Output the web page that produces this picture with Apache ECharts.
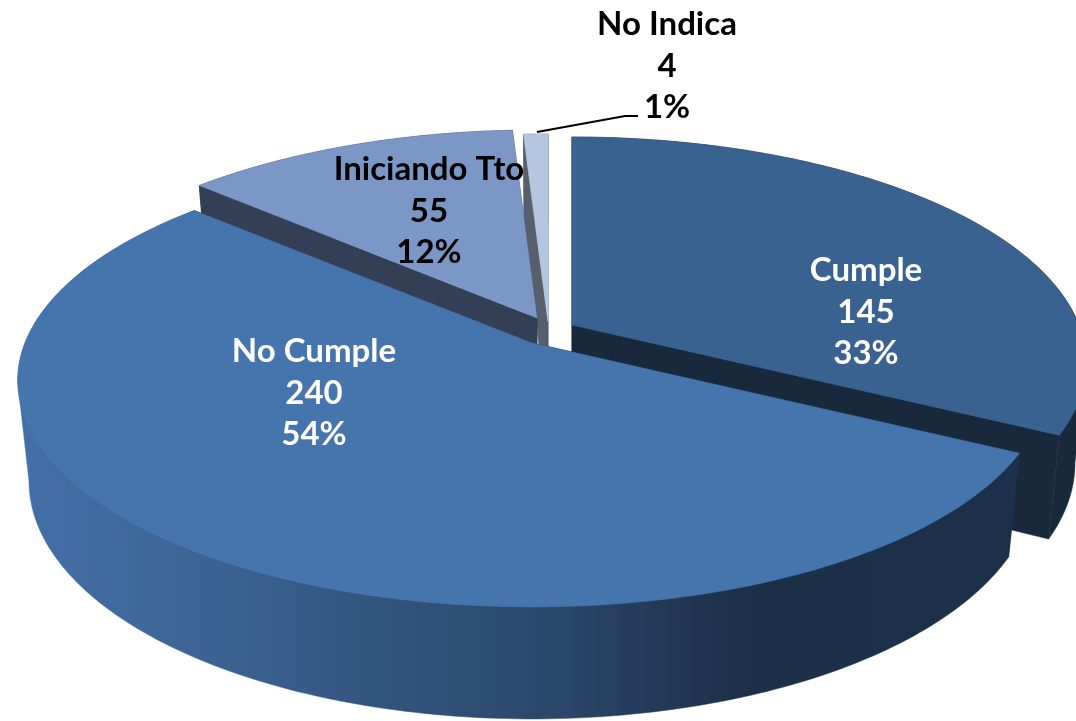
<!DOCTYPE html>
<html>
<head>
<meta charset="utf-8">
<style>html,body{margin:0;padding:0;background:#fff}#c{width:1076px;height:721px}</style>
<script src="https://cdn.jsdelivr.net/npm/echarts@6/dist/echarts.min.js"></script>
</head>
<body>
<div id="c"></div>
<script>
// ---- data ----
const categories = ['Cumple', 'No Cumple', 'Iniciando Tto', 'No Indica'];
const counts = [145, 240, 55, 4];
const percentLabels = ['33%', '54%', '12%', '1%'];

// ---- styling / layout (no data here) ----
const apexes = [[572, 325], [532, 343], [537, 318], [548, 322]];
const topColors = ['#3a6290', '#4674ad', '#7a97c5', '#b5c6e0'];
const wallColors = ['#18293c', null, '#323f55', '#565f6c'];
const paintRank = [2, 3, 1, 0];
const labelAt = [[866, 312], [314, 393], [429, 211], [667, 66]];
const labelColors = ['#ffffff', '#ffffff', '#000000', '#000000'];
const leader = [[537, 132], [625, 116], [638, 116]];
const RADIUS_X = 507, RADIUS_Y = 219.6, PERSPECTIVE = 0.168, DEPTH = 98, BOTTOM_SCALE = 0.978;

const total = counts.reduce((a, b) => a + b, 0);
const starts = [];
counts.reduce((acc, v, i) => { starts[i] = acc; return acc + v; }, 0);

function project(apex, angle, r, lower) {
  const u = r * Math.sin(angle), v = r * Math.cos(angle);
  const w = 1 + PERSPECTIVE * v;
  const s = lower ? BOTTOM_SCALE : 1;
  return [apex[0] + s * RADIUS_X * u / w,
          apex[1] - s * RADIUS_Y * v / w + (lower ? DEPTH / w : 0)];
}
function arc(apex, a0, a1, lower) {
  const pts = [], n = Math.max(2, Math.ceil((a1 - a0) / (Math.PI / 180)));
  for (let i = 0; i <= n; i++) pts.push(project(apex, a0 + (a1 - a0) * i / n, 1, lower));
  return pts;
}
// Outline of the extruded outer wall, with the tangent edge at the disc's side extreme.
function wallOutline(apex, upper, lower) {
  const n = upper.length - 1;
  let kMin = 0, kMax = 0;
  upper.forEach((p, k) => {
    if (p[0] < upper[kMin][0]) kMin = k;
    if (p[0] > upper[kMax][0]) kMax = k;
  });
  if (kMin > 0 && kMin < n) {
    return [upper[0]].concat(lower.slice(0, kMin + 1), upper.slice(kMin), [lower[n], apex]);
  }
  if (kMax > 0 && kMax < n) {
    return upper.slice(0, kMax + 1).concat(lower.slice(kMax), [upper[n], apex]);
  }
  return upper.concat(lower.slice().reverse());
}
const frontWall = new echarts.graphic.LinearGradient(15, 0, 1018, 0, [
  { offset: 0, color: '#446fa8' },
  { offset: 0.15, color: '#3e6698' },
  { offset: 0.35, color: '#33567f' },
  { offset: 0.55, color: '#2a4668' },
  { offset: 0.68, color: '#20344f' },
  { offset: 0.74, color: '#1b3047' },
  { offset: 1, color: '#1c3149' }
], true);

function renderItem(params, api) {
  const i = params.dataIndex, value = api.value(0);
  const a0 = starts[i] / total * 2 * Math.PI, a1 = a0 + value / total * 2 * Math.PI;
  const apex = apexes[i];
  const base = paintRank[i] * 10;
  const wall = wallColors[i] || frontWall;
  const flat = wallColors[i] || '#1c3049';
  const poly = (points, fill, z) => ({
    type: 'polygon', shape: { points }, z2: base + z,
    style: { fill, stroke: fill, lineWidth: 0.5 }, silent: true
  });
  const apexLow = project(apex, 0, 0, true);
  const upper = arc(apex, a0, a1, false), lower = arc(apex, a0, a1, true);
  return {
    type: 'group',
    children: [
      poly([apex, upper[0], lower[0], apexLow], flat, 1),
      poly([apex, upper[upper.length - 1], lower[lower.length - 1], apexLow], flat, 2),
      poly(wallOutline(apex, upper, lower), wall, 3),
      poly([apex].concat(upper), topColors[i], 4),
      {
        type: 'text', z2: 100, silent: true,
        x: labelAt[i][0], y: labelAt[i][1],
        style: {
          text: categories[i] + '\n' + value + '\n' + percentLabels[i],
          align: 'center', verticalAlign: 'middle',
          fontFamily: 'Lato', fontWeight: 'bold', fontSize: 33, lineHeight: 41.5,
          fill: labelColors[i]
        }
      }
    ]
  };
}

const chart = echarts.init(document.getElementById('c'), null, { renderer: 'canvas' });
chart.setOption({
  animation: false,
  backgroundColor: '#ffffff',
  tooltip: { show: false },
  series: [{
    type: 'custom',
    coordinateSystem: 'none',
    renderItem,
    data: counts.map((v, i) => ({ name: categories[i], value: [v] }))
  }],
  graphic: [{
    type: 'polyline', z: 100, silent: true,
    shape: { points: leader },
    style: { stroke: '#000000', lineWidth: 2, fill: null }
  }]
});
</script>
</body>
</html>
